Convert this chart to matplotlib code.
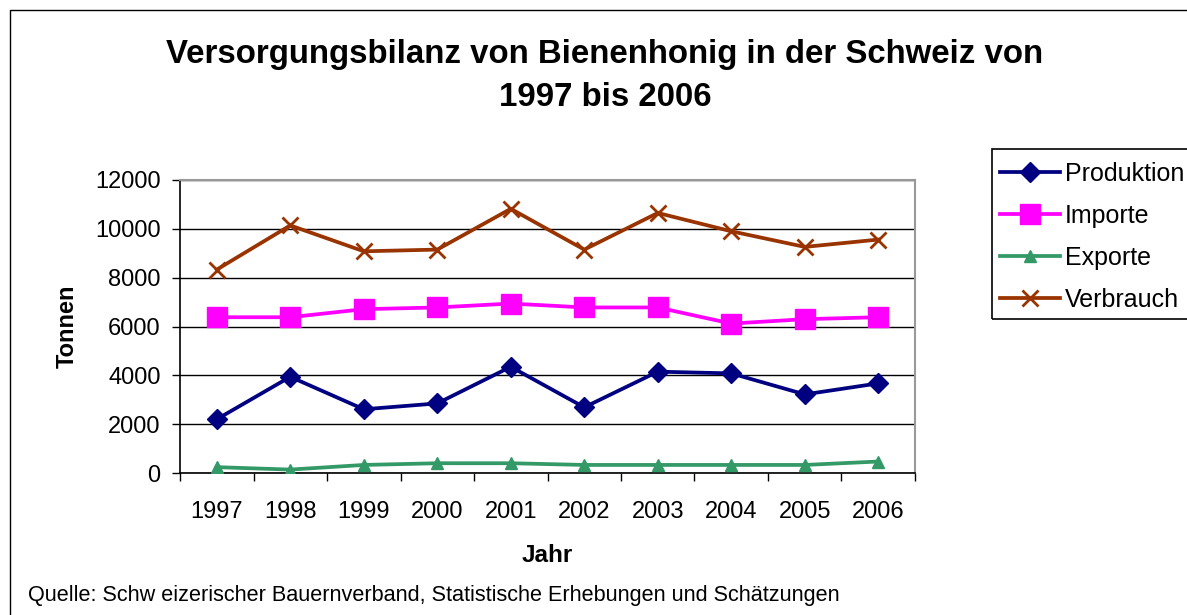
import matplotlib
matplotlib.use("Agg")
import matplotlib.pyplot as plt
from matplotlib.patches import Rectangle

years = ["1997", "1998", "1999", "2000", "2001", "2002", "2003", "2004", "2005", "2006"]
produktion = [2200, 3940, 2610, 2850, 4350, 2690, 4150, 4080, 3220, 3670]
importe = [6380, 6380, 6710, 6780, 6940, 6780, 6780, 6120, 6300, 6380]
exporte = [240, 140, 330, 400, 400, 330, 330, 330, 330, 470]
verbrauch = [8330, 10140, 9080, 9150, 10820, 9150, 10650, 9900, 9260, 9560]
yticks = [0, 2000, 4000, 6000, 8000, 10000, 12000]

plt.rcParams['font.family'] = ['Liberation Sans', 'DejaVu Sans']

W, H = 1187, 615
fig = plt.figure(figsize=(W / 100, H / 100), dpi=100)
fig.patch.set_facecolor('white')

# outer chart border
fig.patches.append(Rectangle((10 / W, -0.1), 1.2, 1 - 10 / H + 0.1, transform=fig.transFigure,
                             fill=False, edgecolor='black', linewidth=1.0))
# legend border
fig.patches.append(Rectangle((992 / W, 1 - 319 / H), 0.2, (319 - 149) / H, transform=fig.transFigure,
                             fill=False, edgecolor='black', linewidth=1.2))

ax = fig.add_axes([180 / W, 1 - 473 / H, (915 - 180) / W, (473 - 180) / H])
x = list(range(len(years)))

ax.plot(x, produktion, color='#000080', lw=2.7, marker='D', ms=10, label='Produktion', zorder=3)
ax.plot(x, importe, color='#FF00FF', lw=2.7, marker='s', ms=15, label='Importe', zorder=3)
ax.plot(x, exporte, color='#339966', lw=2.7, marker='^', ms=9, label='Exporte', zorder=3)
ax.plot(x, verbrauch, color='#993300', lw=2.7, marker='x', ms=11, mew=2, label='Verbrauch', zorder=3)

ax.set_xlim(-0.5, len(years) - 0.5)
ax.set_ylim(0, 12000)
ax.set_yticks(yticks)
ax.set_yticklabels([str(v) for v in yticks], fontsize=17)
ax.set_xticks([i - 0.5 for i in range(len(years) + 1)])
ax.set_xticklabels([])
ax.set_xticks(x, minor=True)
ax.set_xticklabels(years, minor=True, fontsize=17)
ax.tick_params(axis='x', which='minor', length=0, pad=20)
ax.tick_params(axis='x', which='major', length=6, width=1, color='black', direction='out')
ax.tick_params(axis='y', length=6, width=1, direction='out', pad=8)

ax.yaxis.grid(True, color='black', linewidth=1)
ax.set_axisbelow(True)
for s in ['top', 'right']:
    ax.spines[s].set_color('#999999')
    ax.spines[s].set_linewidth(1.5)
for s in ['left', 'bottom']:
    ax.spines[s].set_color('black')
    ax.spines[s].set_linewidth(1.2)

ax.set_ylabel('Tonnen', fontsize=17, fontweight='bold', labelpad=12)
ax.set_xlabel('Jahr', fontsize=17.5, fontweight='bold', labelpad=15)

fig.text(605 / W, 1 - 55 / H, 'Versorgungsbilanz von Bienenhonig in der Schweiz von',
         ha='center', va='center', fontsize=23.8, fontweight='bold')
fig.text(605 / W, 1 - 98 / H, '1997 bis 2006',
         ha='center', va='center', fontsize=23.8, fontweight='bold')

fig.text(28 / W, 1 - 595 / H,
         'Quelle: Schw eizerischer Bauernverband, Statistische Erhebungen und Schätzungen',
         ha='left', va='center', fontsize=15.6)

leg = fig.legend(loc='upper left', bbox_to_anchor=(1000 / W, 1 - 162 / H), fontsize=18,
                 frameon=False, handlelength=2.4, handletextpad=0.2, borderpad=0,
                 labelspacing=0.72, borderaxespad=0)

fig.savefig('out.png', dpi=100)
